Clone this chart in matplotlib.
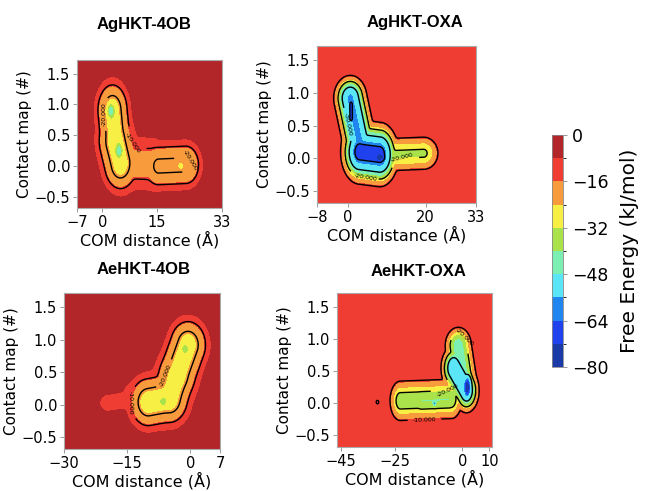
import matplotlib
matplotlib.use('Agg')
import matplotlib.pyplot as plt
import matplotlib.colors as colors
import numpy as np

# 10 colour bands, bottom (deep) to top (shallow)
band_colors = ['#1a3aa8', '#1f42ee', '#2185ef', '#5ae6f7', '#7cf0b2',
               '#a9e24a', '#f7ef43', '#f89b3d', '#f03d33', '#b2262a']
cbar_bounds = [-80, -72, -64, -56, -48, -40, -32, -24, -16, -8, 0]
cbar_ticks = [0, -16, -32, -48, -64, -80]

titles = ['AgHKT-4OB', 'AgHKT-OXA', 'AeHKT-4OB', 'AeHKT-OXA']
xlims = [(-7, 33), (-8, 33), (-30, 7), (-46.5, 11)]
xticks = [[-7, 0, 15, 33], [-8, 0, 20, 33], [-30, -15, 0, 7], [-45, -25, 0, 10]]
ylim = (-0.68, 1.72)
yticks = [-0.5, 0.0, 0.5, 1.0, 1.5]

# free energy wells: (x0, y0, x1, y1, sx, sy, depth), a basin stretched from (x0,y0) to (x1,y1)
ag_4ob_wells = [
    (2.8, 0.9, 3.6, 0.4, 2.9, 0.3, 26),
    (3.6, 0.4, 5.0, 0.05, 3.2, 0.3, 26),
    (2.4, 0.89, 2.4, 0.89, 1.8, 0.2, 31),
    (4.6, 0.25, 4.6, 0.25, 1.8, 0.2, 31),
    (6.0, 0.05, 14.0, 0.03, 1.8, 0.28, 14),
    (15.5, 0.0, 23.0, 0.02, 2.8, 0.24, 21.5),
    (21.6, 0.0, 21.6, 0.0, 1.3, 0.1, 24),
]
ag_oxa_wells = [
    (0.6, 0.92, 3.0, 0.25, 2.7, 0.22, 38),
    (3.0, 0.1, 8.2, 0.06, 3.0, 0.3, 42),
    (8.2, 0.02, 8.2, 0.02, 1.6, 0.09, 50),
    (0.8, 0.82, 0.8, 0.62, 0.8, 0.1, 42),
    (11.0, 0.06, 19.5, 0.08, 3.0, 0.2, 20.5),
]
ae_4ob_wells = [
    (-10.0, 0.04, -5.0, 0.1, 3.0, 0.26, 26),
    (-5.0, 0.1, -3.2, 0.45, 3.0, 0.26, 26),
    (-3.2, 0.45, -0.6, 0.92, 3.0, 0.26, 26),
    (-6.5, 0.05, -6.5, 0.05, 1.5, 0.12, 29.5),
    (-1.3, 0.86, -1.3, 0.86, 1.5, 0.12, 29.5),
    (-19.6, 0.03, -10.0, 0.12, 1.5, 0.1, 9),
    (-13.0, 0.15, -6.0, 0.35, 2.5, 0.17, 8),
]
ae_oxa_wells = [
    (-23.0, 0.04, -4.0, 0.07, 3.0, 0.24, 22),
    (-15.0, 0.04, -5.0, 0.06, 2.5, 0.16, 25),
    (-10.3, 0.0, -10.3, 0.0, 1.3, 0.08, 30),
    (-1.5, 0.9, 0.5, 0.35, 3.4, 0.2, 28),
    (-3.2, 0.55, 1.5, 0.2, 3.0, 0.22, 37),
    (1.8, 0.25, 1.8, 0.25, 1.8, 0.2, 47),
    (-31.5, 0.02, -31.5, 0.02, 0.9, 0.05, 11),
]
wells = [ag_4ob_wells, ag_oxa_wells, ae_4ob_wells, ae_oxa_wells]

# colour band boundaries used in each panel (ascending)
band_levels = [
    [-60, -50, -40, -36, -33, -29.5, -27, -22, -11, -4, 1],
    [-60, -45, -40, -37, -28, -24, -20, -16, -11, 1, 5],
    [-60, -50, -40, -36, -33, -29.5, -27, -22, -11, -4, 1],
    [-60, -44, -41, -38, -28, -25, -20, -16, -11, 1, 5],
]
line_levels = [[-20, -10], [-40, -30, -20, -10], [-20, -10], [-30, -20, -10]]
label_spots = [
    [(0.0, 0.84), (8.6, 0.38), (24.3, 0.09)],
    [(0.5, 0.53), (14.0, 0.0), (4.6, -0.29)],
    [(-14.8, 0.03), (-4.9, 0.44)],
    [(0.7, 1.03), (-5.5, 0.2), (-14.0, -0.31)],
]

ax_rects = [[0.1186, 0.5764, 0.2234, 0.3014],
            [0.4884, 0.5866, 0.2450, 0.3198],
            [0.0986, 0.0855, 0.2404, 0.3177],
            [0.5193, 0.0896, 0.2388, 0.3136]]
title_pos = [(144, 25), (415, 23), (144, 270), (419, 272)]


def fes(x, y, wl, p=1.2, ks=1.0):
    X, Y = np.meshgrid(x, y)
    terms = []
    for (x0, y0, x1, y1, sx, sy, d) in wl:
        ax_, ay_ = x0 / sx, y0 / sy
        vx, vy = x1 / sx - ax_, y1 / sy - ay_
        px, py = X / sx, Y / sy
        L2 = vx * vx + vy * vy
        if L2 == 0:
            t = 0.0
        else:
            t = np.clip(((px - ax_) * vx + (py - ay_) * vy) / L2, 0, 1)
        dx = px - (ax_ + t * vx)
        dy = py - (ay_ + t * vy)
        g = np.exp(-(0.5 * (dx * dx + dy * dy)) ** p)
        terms.append(d * g / ks)
    terms = np.array(terms)
    # smooth maximum of the well depths, zero far from every basin
    F = -ks * np.log(np.exp(terms).sum(axis=0) - (len(wl) - 1))
    return F


def main():
    fig = plt.figure(figsize=(6.49, 4.91), dpi=100)
    cmap = colors.ListedColormap(band_colors)
    for i in range(4):
        ax = fig.add_axes(ax_rects[i])
        x = np.linspace(xlims[i][0], xlims[i][1], 400)
        y = np.linspace(ylim[0], ylim[1], 400)
        F = fes(x, y, wells[i])
        norm = colors.BoundaryNorm(band_levels[i], cmap.N)
        ax.contourf(x, y, F, levels=band_levels[i], cmap=cmap, norm=norm)
        cl = ax.contour(x, y, F, levels=line_levels[i], colors='black',
                        linewidths=1.0, linestyles='solid')
        ax.clabel(cl, fmt='%.3f', fontsize=4.5, inline=True, manual=label_spots[i])
        ax.set_xlim(xlims[i])
        ax.set_ylim(ylim)
        ax.set_xticks(xticks[i])
        ax.set_yticks(yticks)
        ax.tick_params(labelsize=10.5, length=3, width=0.6, color='#888888', pad=2)
        for sp in ax.spines.values():
            sp.set_color('#aaaaaa')
            sp.set_linewidth(0.8)
        ax.set_xlabel('COM distance (Å)', fontsize=11.5, labelpad=1)
        ax.set_ylabel('Contact map (#)', fontsize=11, labelpad=2)
        fig.text(title_pos[i][0] / 649, 1 - title_pos[i][1] / 491, titles[i],
                 ha='center', va='center', fontsize=12, fontweight='bold',
                 family='Liberation Sans')

    cax = fig.add_axes([0.8505, 0.2525, 0.0169, 0.4725])
    cnorm = colors.BoundaryNorm(cbar_bounds, cmap.N)
    cb = matplotlib.colorbar.ColorbarBase(cax, cmap=cmap, norm=cnorm,
                                          boundaries=cbar_bounds, ticks=cbar_ticks)
    cb.ax.tick_params(labelsize=12.5, length=3, width=0.6, color='#888888')
    cb.outline.set_edgecolor('#888888')
    cb.outline.set_linewidth(0.6)
    cb.set_label('Free Energy (kJ/mol)', fontsize=14.5, labelpad=8)

    plt.savefig('out.png', dpi=100)


if __name__ == '__main__':
    main()
